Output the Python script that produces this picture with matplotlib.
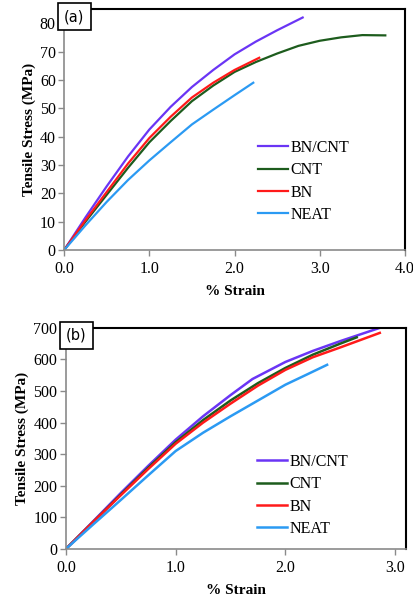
import numpy as np
import matplotlib.pyplot as plt

plt.rcParams['font.family'] = ['Liberation Serif', 'DejaVu Serif']

# (a) tensile curves
a_bncnt_x = [0, 0.25, 0.5, 0.75, 1.0, 1.25, 1.5, 1.75, 2.0, 2.25, 2.5, 2.8]
a_bncnt_y = [0, 11.5, 22.5, 33, 42.5, 50.5, 57.5, 63.5, 69, 73.5, 77.5, 82]
a_cnt_x = [0, 0.25, 0.5, 0.75, 1.0, 1.25, 1.5, 1.75, 2.0, 2.25, 2.5, 2.75, 3.0, 3.25, 3.5, 3.77]
a_cnt_y = [0, 10, 19.5, 29, 38, 45.5, 52.5, 58, 62.8, 66.3, 69.3, 72, 73.8, 75, 75.8, 75.7]
a_bn_x = [0, 0.25, 0.5, 0.75, 1.0, 1.25, 1.5, 1.75, 2.0, 2.29]
a_bn_y = [0, 10.5, 20.5, 30.5, 39.5, 47, 53.8, 59, 63.5, 67.8]
a_neat_x = [0, 0.25, 0.5, 0.75, 1.0, 1.25, 1.5, 1.75, 2.0, 2.22]
a_neat_y = [0, 8.7, 17, 24.7, 31.6, 38, 44.3, 49.5, 54.6, 59]

# (b) tensile curves
b_bncnt_x = [0, 0.25, 0.5, 0.75, 1.0, 1.25, 1.5, 1.7, 2.0, 2.25, 2.5, 2.86]
b_bncnt_y = [0, 88, 177, 263, 346, 420, 487, 538, 592, 627, 658, 700]
b_cnt_x = [0, 0.25, 0.5, 0.75, 1.0, 1.25, 1.5, 1.75, 2.0, 2.25, 2.5, 2.65]
b_cnt_y = [0, 86, 172, 257, 338, 408, 470, 525, 573, 615, 650, 670]
b_bn_x = [0, 0.25, 0.5, 0.75, 1.0, 1.25, 1.5, 1.75, 2.0, 2.25, 2.5, 2.86]
b_bn_y = [0, 86, 170, 253, 333, 400, 460, 517, 567, 607, 638, 684]
b_neat_x = [0, 0.25, 0.5, 0.75, 1.0, 1.25, 1.5, 1.75, 2.0, 2.2, 2.38]
b_neat_y = [0, 78, 155, 233, 310, 368, 420, 470, 520, 553, 583]

labels = ['BN/CNT', 'CNT', 'BN', 'NEAT']
colors = ['#6a35f5', '#1d5c1d', '#ff1a1a', '#2b9af3']

fig = plt.figure(figsize=(4.14, 6.01), dpi=100)
ax1 = fig.add_axes([0.155, 0.584, 0.823, 0.401])
ax2 = fig.add_axes([0.159, 0.0865, 0.822, 0.368])


def style(ax, tag, leg_xy):
    for s in ['top', 'right']:
        ax.spines[s].set_color('black')
        ax.spines[s].set_linewidth(1.5)
    for s in ['left', 'bottom']:
        ax.spines[s].set_color('#8a8a8a')
        ax.spines[s].set_linewidth(1.2)
    ax.tick_params(direction='out', length=4, width=1, color='#8a8a8a',
                   labelsize=11.5, pad=2)
    ax.tick_params(axis='x', pad=4)
    ax.set_xlabel('% Strain', fontsize=11, fontweight='bold', labelpad=6)
    ax.set_ylabel('Tensile Stress (MPa)', fontsize=11, fontweight='bold', labelpad=3)
    ax.text(0.0, 1.0, tag, transform=ax.transAxes, ha='left', va='top',
            fontsize=10.5, family='DejaVu Sans',
            bbox=dict(boxstyle='square,pad=0.42', fc='white', ec='black', lw=1.2))
    ax.legend(loc='upper left', bbox_to_anchor=leg_xy, frameon=False,
              fontsize=11.5, handlelength=1.9, handletextpad=0.15,
              labelspacing=0.4, borderpad=0, borderaxespad=0)


series_a = [(a_bncnt_x, a_bncnt_y), (a_cnt_x, a_cnt_y), (a_bn_x, a_bn_y), (a_neat_x, a_neat_y)]
for (x, y), lab, c in zip(series_a, labels, colors):
    ax1.plot(x, y, color=c, lw=1.6, label=lab)
ax1.set_xlim(0, 4)
ax1.set_ylim(0, 85)
ax1.set_xticks([0, 1, 2, 3, 4])
ax1.set_xticklabels(['0.0', '1.0', '2.0', '3.0', '4.0'])
ax1.set_yticks(np.arange(0, 81, 10))
style(ax1, '(a)', (0.569, 0.457))

series_b = [(b_bncnt_x, b_bncnt_y), (b_cnt_x, b_cnt_y), (b_bn_x, b_bn_y), (b_neat_x, b_neat_y)]
for (x, y), lab, c in zip(series_b, labels, colors):
    ax2.plot(x, y, color=c, lw=1.8, label=lab)
ax2.set_xlim(0, 3.1)
ax2.set_ylim(0, 700)
ax2.set_xticks([0, 1, 2, 3])
ax2.set_xticklabels(['0.0', '1.0', '2.0', '3.0'])
ax2.set_yticks(np.arange(0, 701, 100))
style(ax2, '(b)', (0.562, 0.43))

fig.savefig('out.png', dpi=100)
